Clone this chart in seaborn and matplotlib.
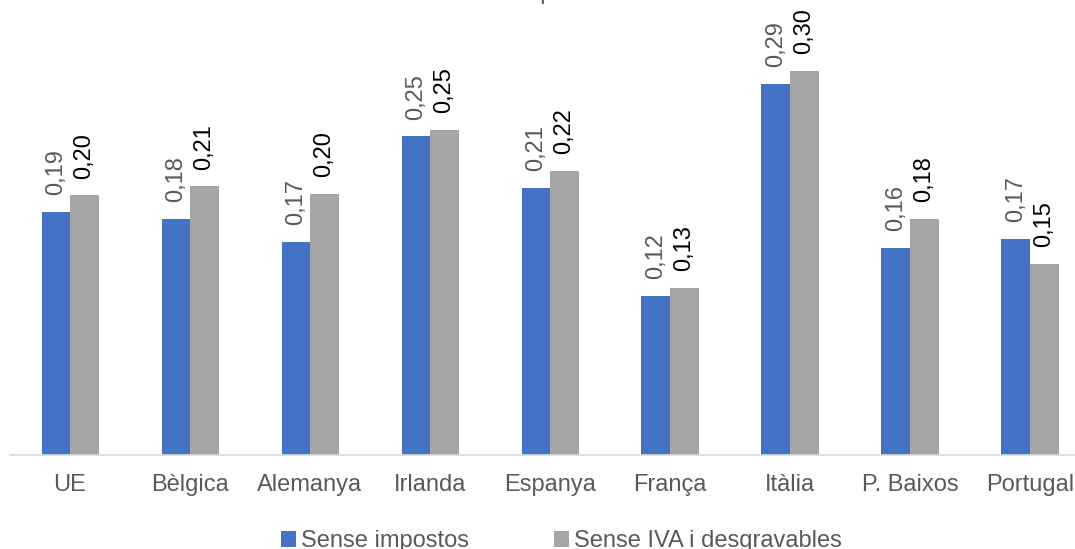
import numpy as np
import pandas as pd
import matplotlib
matplotlib.use("Agg")
import matplotlib.pyplot as plt
import seaborn as sns
from matplotlib.patches import Patch

categories = ["UE", "Bèlgica", "Alemanya", "Irlanda", "Espanya", "França", "Itàlia", "P. Baixos", "Portugal"]
sense_impostos = [0.189, 0.184, 0.166, 0.248, 0.208, 0.124, 0.289, 0.161, 0.168]
sense_iva = [0.202, 0.209, 0.203, 0.253, 0.221, 0.130, 0.299, 0.184, 0.149]
series_names = ["Sense impostos", "Sense IVA i desgravables"]
title_text = "Euros per kWh"

colors = ["#4472C4", "#A5A5A5"]
label_colors = ["#595959", "#000000"]

df = pd.DataFrame({
    "pais": categories * 2,
    "valor": sense_impostos + sense_iva,
    "serie": [series_names[0]] * len(categories) + [series_names[1]] * len(categories),
})

sns.set_theme(style="white")
plt.rcParams["font.family"] = ["Liberation Sans", "DejaVu Sans"]

W, H = 1075, 549
fig = plt.figure(figsize=(W / 100, H / 100), dpi=100)
ax = fig.add_axes([10 / W, 1 - 455 / H, 1080 / W, 455 / H])

sns.barplot(data=df, x="pais", y="valor", hue="serie", order=categories,
            hue_order=series_names, palette=colors, width=0.475, gap=0,
            linewidth=0, saturation=1, ax=ax, legend=False)

ax.set_ylim(0, 455 / 1285)
ax.set_xlim(-0.5, len(categories) - 0.5)

for cont, lc in zip(ax.containers, label_colors):
    labs = [f"{v:.2f}".replace(".", ",") for v in cont.datavalues]
    ax.bar_label(cont, labels=labs, rotation=90, padding=12, fontsize=17, color=lc)

for s in ["top", "right", "left"]:
    ax.spines[s].set_visible(False)
ax.spines["bottom"].set_color("#D9D9D9")
ax.spines["bottom"].set_linewidth(1.2)
ax.set_yticks([])
ax.set_xlabel("")
ax.set_ylabel("")
ax.set_xticks(range(len(categories)))
ax.set_xticklabels(categories, fontsize=17, color="#595959")
ax.tick_params(axis="x", which="major", length=0, pad=14)
ax.set_xticks(np.arange(-0.5, len(categories), 1.0), minor=True)
ax.tick_params(axis="x", which="minor", length=7, width=1.2, color="#D9D9D9", direction="out")

fig.text((10 + 1090) / 2 / W, 1 + 0.5 / H, title_text, ha="center", va="baseline",
         fontsize=17, color="#595959")

handles = [Patch(facecolor=c, edgecolor="none") for c in colors]
leg = fig.legend(handles, series_names, loc="center", bbox_to_anchor=(0.522, 0.014),
                 ncol=2, frameon=False, fontsize=17, handlelength=0.65, handleheight=0.65,
                 handletextpad=0.2, columnspacing=3.6, labelcolor="#595959")

fig.savefig("out.png", dpi=100)
